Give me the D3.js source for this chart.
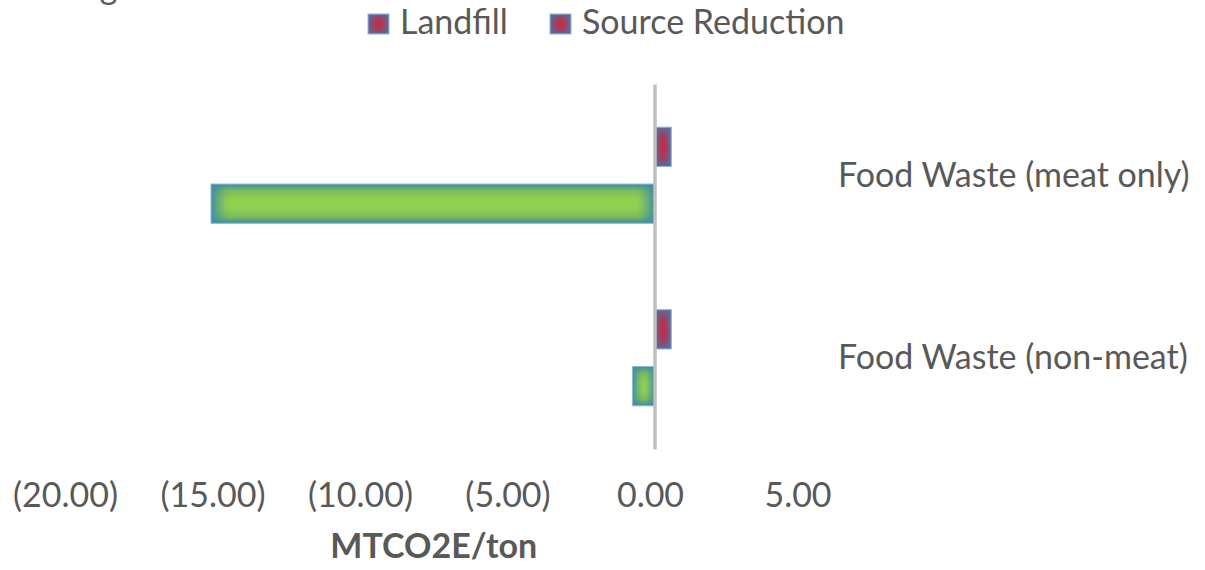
<!DOCTYPE html>
<html>
<head>
<meta charset="utf-8">
<script src="https://cdn.jsdelivr.net/npm/d3@7/dist/d3.min.js"></script>
<style>
  html, body { margin: 0; padding: 0; background: #fff; }
  svg { display: block; }
  text { font-family: "Lato", "Open Sans", sans-serif; fill: #595959; }
</style>
</head>
<body>
<svg id="chart" width="1205" height="570"></svg>
<script>
// ---- data ----
const categories = ["Food Waste (meat only)", "Food Waste (non-meat)"];
const seriesNames = ["Landfill", "Source Reduction"];
const landfillValues = [0.55, 0.55];
const sourceReductionValues = [-15.05, -0.76];
const tickValues = [-20, -15, -10, -5, 0, 5];
const tickLabels = ["(20.00)", "(15.00)", "(10.00)", "(5.00)", "0.00", "5.00"];
const axisTitle = "MTCO2E/ton";
const clippedLegendText = "Digestion";

// ---- styles ----
const FONT = 34;
const style = {
  "Landfill": { center: "#c22b48", mid: "#9c4063", edge: "#55709f", stroke: "#8fb6e0" },
  "Source Reduction": { center: "#92d050", mid: "#7dbe58", edge: "#3f8ea2", stroke: "#8fb6e0" }
};

const svg = d3.select("#chart");
const defs = svg.append("defs");

function slug(s) { return s.replace(/\W+/g, "_"); }

seriesNames.forEach(name => {
  const st = style[name];
  const id = slug(name);
  const vg = defs.append("linearGradient").attr("id", "v_" + id)
    .attr("x1", 0).attr("y1", 0).attr("x2", 0).attr("y2", 1);
  [[0, st.edge], [0.18, st.mid], [0.4, st.center], [0.6, st.center], [0.82, st.mid], [1, st.edge]]
    .forEach(([o, c]) => vg.append("stop").attr("offset", o).attr("stop-color", c));
  [["hl_", 0, 1], ["hr_", 1, 0]].forEach(([pre, a, b]) => {
    const hg = defs.append("linearGradient").attr("id", pre + id)
      .attr("x1", a).attr("y1", 0).attr("x2", b).attr("y2", 0);
    [[0, 1], [0.35, 0.55], [0.75, 0.12], [1, 0]].forEach(([o, op]) =>
      hg.append("stop").attr("offset", o).attr("stop-color", st.edge).attr("stop-opacity", op));
  });
});

function pathGradientRect(g, x, y, w, h, name) {
  const id = slug(name);
  const cap = Math.min(h / 2, w / 2);
  g.append("rect").attr("x", x).attr("y", y).attr("width", w).attr("height", h)
    .attr("fill", `url(#v_${id})`);
  g.append("rect").attr("x", x).attr("y", y).attr("width", cap).attr("height", h)
    .attr("fill", `url(#hl_${id})`);
  g.append("rect").attr("x", x + w - cap).attr("y", y).attr("width", cap).attr("height", h)
    .attr("fill", `url(#hr_${id})`);
  g.append("rect").attr("x", x).attr("y", y).attr("width", w).attr("height", h)
    .attr("fill", "none").attr("stroke", style[name].stroke).attr("stroke-width", 1);
}

// ---- scales ----
const x = d3.scaleLinear().domain([-20, 5]).range([65, 802.5]);
const y = d3.scaleBand().domain(categories).range([84, 449]).padding(0);
const ySub = d3.scaleBand().domain(seriesNames).range([0, y.bandwidth()])
  .paddingInner(0.309).paddingOuter(0.76);

const valuesBySeries = { "Landfill": landfillValues, "Source Reduction": sourceReductionValues };

// ---- bars ----
const barsG = svg.append("g");
categories.forEach((cat, i) => {
  seriesNames.forEach(name => {
    const v = valuesBySeries[name][i];
    const x0 = x(Math.min(0, v)), x1 = x(Math.max(0, v));
    pathGradientRect(barsG, x0, y(cat) + ySub(name), x1 - x0, ySub.bandwidth(), name);
  });
});

// ---- vertical (category) axis line at zero ----
const catAxis = svg.append("g").attr("transform", `translate(${x(0) - 0.5},0)`)
  .call(d3.axisLeft(y).tickSize(0).tickFormat("").tickSizeOuter(0));
catAxis.select(".domain").attr("stroke", "#bfbfbf").attr("stroke-width", 3.5);

// ---- category labels (right side) ----
const labAxis = svg.append("g").attr("transform", "translate(838,0)")
  .call(d3.axisRight(y).tickSize(0).tickPadding(0));
labAxis.select(".domain").remove();
labAxis.attr("font-family", null).attr("font-size", null);
labAxis.selectAll("text")
  .attr("x", 0).attr("dy", null).attr("y", 11.5)
  .attr("text-anchor", "start")
  .style("font-size", FONT + "px").style("fill", "#595959");

// ---- value axis tick labels ----
const valAxis = svg.append("g")
  .call(d3.axisBottom(x).tickValues(tickValues)
    .tickFormat((d, i) => tickLabels[i]).tickSize(0));
valAxis.select(".domain").remove();
valAxis.attr("font-family", null).attr("font-size", null);
valAxis.selectAll("text")
  .attr("y", 507).attr("dy", null)
  .attr("dx", d => d >= 0 ? -5 : 0)
  .style("font-size", FONT + "px").style("fill", "#595959");

// ---- axis title ----
svg.append("text")
  .attr("x", (x.range()[0] + x.range()[1]) / 2).attr("y", 558)
  .attr("text-anchor", "middle")
  .style("font-size", FONT + "px").style("font-weight", "bold")
  .text(axisTitle);

// ---- legend ----
const legend = svg.append("g");
const legendX = [368, 550];
seriesNames.forEach((name, i) => {
  const g = legend.append("g");
  pathGradientRect(g, legendX[i], 14, 21, 20, "Landfill");
  g.append("text").attr("x", legendX[i] + 32).attr("y", 34)
    .style("font-size", FONT + "px").text(name);
});

// ---- clipped text of the legend row above (only its bottom is visible, as in the source) ----
svg.append("text").attr("x", 66).attr("y", -1.5)
  .style("font-size", FONT + "px").text(clippedLegendText);
</script>
</body>
</html>
